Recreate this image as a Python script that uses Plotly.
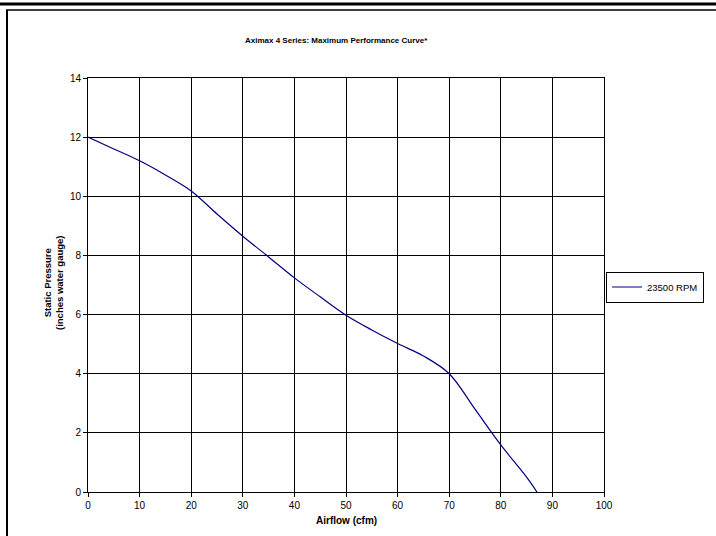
import plotly.graph_objects as go

# Data
airflow = [0, 5, 10, 15, 20, 25, 30, 35, 40, 45, 50, 55, 60, 65, 70, 75, 80, 85, 87]
pressure = [12.0, 11.6, 11.2, 10.72, 10.18, 9.4, 8.65, 7.95, 7.24, 6.6, 5.98, 5.48, 5.02, 4.6, 4.0, 2.8, 1.59, 0.5, 0.0]
series_name = "23500 RPM"
x_ticks = [0, 10, 20, 30, 40, 50, 60, 70, 80, 90, 100]
y_ticks = [0, 2, 4, 6, 8, 10, 12, 14]

W, H = 716, 536
L, R, T, B = 88, 604, 78, 492  # plot area in pixels


def px(x):
    return (x - L) / (R - L)


def py(y):
    return (B - y) / (B - T)


FONT = "Liberation Sans, Arial, sans-serif"

fig = go.Figure()
fig.add_trace(go.Scatter(
    x=airflow, y=pressure, mode="lines", name=series_name,
    line=dict(color="#000080", width=1.2, shape="spline", smoothing=1.0),
    showlegend=True,
))

axis_common = dict(
    showgrid=True, gridcolor="#000000", gridwidth=1,
    showline=True, linecolor="#000000", linewidth=1, mirror=True,
    ticks="outside", ticklen=4, tickcolor="#000000", tickwidth=1,
    zeroline=False, tickfont=dict(family=FONT, size=10, color="#000000"),
    fixedrange=True,
)

fig.update_xaxes(range=[0, 100], tickvals=x_ticks, **axis_common)
fig.update_yaxes(range=[0, 14], tickvals=y_ticks, **axis_common)

fig.update_layout(
    width=W, height=H, autosize=False,
    margin=dict(l=L, r=W - R, t=T, b=H - B, pad=0),
    paper_bgcolor="white", plot_bgcolor="white",
    font=dict(family=FONT, color="#000000"),
    showlegend=True,
    legend=dict(
        x=px(704), y=py(287), xanchor="right", yanchor="middle",
        bordercolor="#000000", borderwidth=1, bgcolor="white",
        font=dict(family=FONT, size=9.5, color="#000000"),
        itemwidth=30, tracegroupgap=0,
    ),
    annotations=[
        dict(text="<b>Aximax 4 Series: Maximum Performance Curve*</b>",
             x=px(336), y=py(40), xref="paper", yref="paper",
             xanchor="center", yanchor="middle", showarrow=False,
             font=dict(family=FONT, size=8)),
        dict(text="<b>Airflow (cfm)</b>",
             x=px(346), y=py(520), xref="paper", yref="paper",
             xanchor="center", yanchor="middle", showarrow=False,
             font=dict(family=FONT, size=10)),
        dict(text="<b>Static Pressure<br>(inches water gauge)</b>",
             x=px(53), y=py(283), xref="paper", yref="paper",
             xanchor="center", yanchor="middle", showarrow=False, textangle=-90,
             font=dict(family=FONT, size=9.5)),
    ],
    shapes=[
        dict(type="line", xref="paper", yref="paper",
             x0=px(0), x1=px(W), y0=py(4), y1=py(4),
             line=dict(color="#000000", width=3)),
        dict(type="line", xref="paper", yref="paper",
             x0=px(6), x1=px(W), y0=py(10), y1=py(10),
             line=dict(color="#000000", width=1.5)),
        dict(type="line", xref="paper", yref="paper",
             x0=px(7), x1=px(7), y0=py(10), y1=py(H),
             line=dict(color="#000000", width=2)),
    ],
)

fig.write_html(
    "out.html",
    config={"responsive": False, "displayModeBar": False},
    post_script="document.body.style.margin='0';document.body.style.padding='0';"
                "document.body.style.overflow='hidden';"
                "document.documentElement.style.overflow='hidden';",
)
